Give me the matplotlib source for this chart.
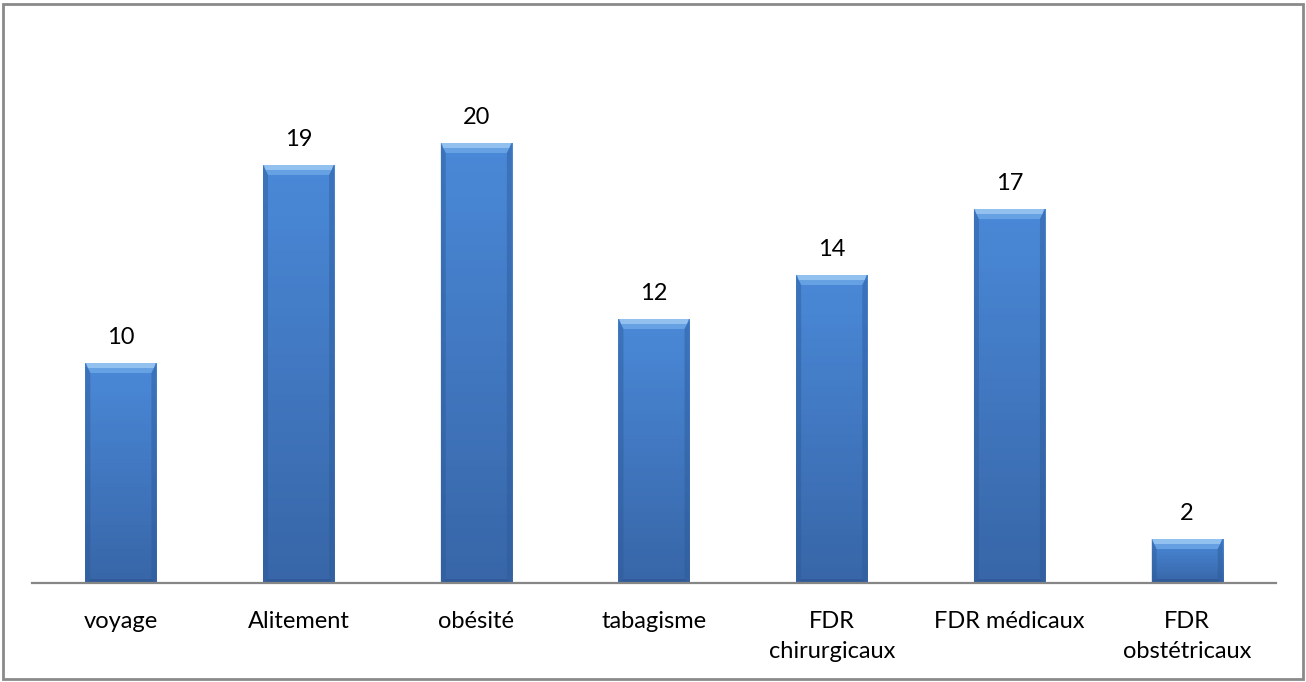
import matplotlib.pyplot as plt
import numpy as np
from matplotlib.colors import LinearSegmentedColormap
from matplotlib.patches import Polygon, Rectangle

plt.rcParams["font.family"] = ["Lato", "DejaVu Sans"]

categories = ["voyage", "Alitement", "obésité", "tabagisme",
              "FDR\nchirurgicaux", "FDR médicaux", "FDR\nobstétricaux"]
values = [10, 19, 20, 12, 14, 17, 2]

W, H = 1306, 682
fig = plt.figure(figsize=(W / 100, H / 100), dpi=100)
ax = fig.add_axes([32 / W, (H - 583) / H, 1244 / W, 550 / H])

x = np.arange(len(categories))
bars = ax.bar(x, values, width=0.4, color="#4a85d2", zorder=2)

ax.set_xlim(-0.5, len(categories) - 0.5)
ax.set_ylim(0, 25)
ax.set_yticks([])
ax.set_xticks(x)
ax.set_xticklabels(categories, fontsize=17, linespacing=1.55)
ax.tick_params(axis="x", length=0, pad=20)
for s in ["top", "right", "left"]:
    ax.spines[s].set_visible(False)
ax.spines["bottom"].set_color("#868686")
ax.spines["bottom"].set_linewidth(1.6)
ax.spines["bottom"].set_zorder(3)

# vertical gradient + bevelled edges on each bar, sized in pixels
to_px = ax.transData.transform
to_data = ax.transData.inverted().transform
grad = np.linspace(0, 1, 64).reshape(-1, 1)
bar_cmap = LinearSegmentedColormap.from_list("bar", ["#3866a8", "#4a89d8"])


def poly(pts, color, alpha):
    ax.add_patch(Polygon(to_data(pts), closed=True, facecolor=color,
                         edgecolor="none", alpha=alpha, zorder=2.2))


for b in bars:
    x0, y0 = b.get_x(), b.get_y()
    x1, y1 = x0 + b.get_width(), y0 + b.get_height()
    im = ax.imshow(grad, extent=[x0, x1, y0, y1], aspect="auto", zorder=2.1,
                   cmap=bar_cmap, origin="lower")
    im.set_clip_path(b)
    (px0, py0), (px1, py1) = to_px([(x0, y0), (x1, y1)])
    bt, bs, bb = min(10, (py1 - py0) / 2), 5, 4

    # top bevel in two shades
    poly([(px0, py1), (px1, py1), (px1 - bs, py1 - bt), (px0 + bs, py1 - bt)],
         "#6ea8e8", 0.8)
    poly([(px0 + 1, py1), (px1 - 1, py1), (px1 - bs / 2, py1 - bt / 2),
          (px0 + bs / 2, py1 - bt / 2)], "#a6cff6", 0.7)
    poly([(px0, py0), (px0, py1), (px0 + bs, py1 - bt), (px0 + bs, py0 + bb)],
         "#2c5a98", 0.45)
    poly([(px1, py0), (px1, py1), (px1 - bs, py1 - bt), (px1 - bs, py0 + bb)],
         "#2c5a98", 0.45)
    poly([(px0, py0), (px1, py0), (px1 - bs, py0 + bb), (px0 + bs, py0 + bb)],
         "#2a528a", 0.5)
    ax.annotate(str(b.get_height()), (b.get_x() + b.get_width() / 2, y1),
                xytext=(0, 11), textcoords="offset points",
                ha="center", va="bottom", fontsize=17, color="black")

fig.add_artist(Rectangle((3 / W, 3 / H), 1 - 6 / W, 1 - 7 / H,
                         transform=fig.transFigure, fill=False,
                         edgecolor="#8a8a8a", linewidth=2))

fig.savefig("out.png", dpi=100)
